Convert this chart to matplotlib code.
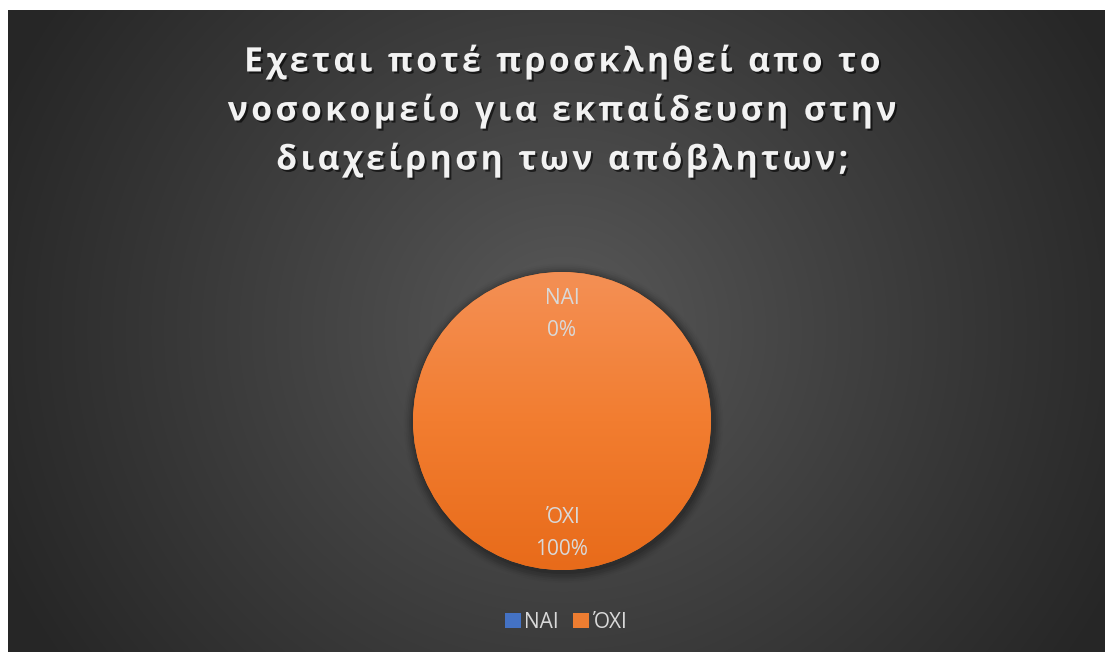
import numpy as np
import matplotlib
matplotlib.use("Agg")
import matplotlib.pyplot as plt
import matplotlib.patheffects as pe

# survey answers
answers = ["ΝΑΙ", "ΌΧΙ"]
shares = [0, 100]
colors = ["#4472C4", "#ED7D31"]
title_lines = ["Εχεται ποτέ προσκληθεί απο το",
               "νοσοκομείο για εκπαίδευση στην",
               "διαχείρηση των απόβλητων;"]

W, H = 1105, 652
fig = plt.figure(figsize=(W / 100, H / 100), dpi=100, facecolor="white")

# dark radial backdrop
bg = fig.add_axes([8 / W, 0, (W - 8) / W, (H - 10) / H])
bg.set_axis_off()
yy, xx = np.mgrid[0:H - 10, 0:W - 8]
cx, cy = 555, 320
d = np.sqrt((xx - cx) ** 2 + ((yy - cy) / 0.95) ** 2)
t = np.clip(d / 620, 0, 1) ** 0.9
inner = np.array([0x5a, 0x5a, 0x5a]) / 255
outer = np.array([0x26, 0x26, 0x26]) / 255
img = inner[None, None, :] * (1 - t[..., None]) + outer[None, None, :] * t[..., None]
bg.imshow(img, aspect="auto", extent=[0, 1, 0, 1], origin="upper")
bg.set_xlim(0, 1)
bg.set_ylim(0, 1)

# spaced-out title: hair spaces between letters
spaced = "\n".join("\u200a".join(line) for line in title_lines)
fig.text(562 / W, 1 - 111 / H, spaced, ha="center", va="center",
         fontsize=24.3, fontweight="bold", color="#F2F2F2", linespacing=1.52,
         family=["Open Sans", "DejaVu Sans"],
         path_effects=[pe.withSimplePatchShadow(offset=(1.5, -1.5), alpha=0.6, shadow_rgbFace="black")])

# pie
pcx, pcy, r = 562, 421, 149
half = 165
ax = fig.add_axes([(pcx - half) / W, (H - pcy - half) / H, 2 * half / W, 2 * half / H])
ax.set_axis_off()
lim = half / r

wedges, _ = ax.pie(shares, colors=colors, startangle=90, counterclock=False,
                   radius=1, wedgeprops=dict(linewidth=0))

# soft drop shadow under the pie
for k, a in enumerate(np.linspace(0.10, 0.02, 6)):
    sh = plt.Circle((0.01, -0.015), 1 + 0.012 * (k + 1), color="black", alpha=a, zorder=0, lw=0)
    ax.add_patch(sh)

# vertical shading on the orange slice
grad = np.linspace(0, 1, 256)[:, None, None]
top = np.array([0xF4, 0x90, 0x55]) / 255
mid = np.array([0xF2, 0x7D, 0x30]) / 255
bot = np.array([0xE8, 0x6B, 0x1A]) / 255
col = np.where(grad < 0.5, top * (1 - grad * 2) + mid * grad * 2,
               mid * (2 - grad * 2) + bot * (grad * 2 - 1))
col = np.repeat(col, 2, axis=1)
for w, v in zip(wedges, shares):
    if v > 0:
        im = ax.imshow(col, extent=[-1, 1, -1, 1], origin="upper", zorder=2, aspect="auto")
        im.set_clip_path(w)
ax.set_xlim(-lim, lim)
ax.set_ylim(-lim, lim)
ax.set_aspect("equal")

total = sum(shares)
for w, name, v in zip(wedges, answers, shares):
    ang = np.deg2rad((w.theta1 + w.theta2) / 2)
    x, y = 0.74 * np.cos(ang), 0.735 * np.sin(ang) - 0.02
    ax.text(x, y, f"{name}\n{v / total:.0%}", ha="center", va="center", fontsize=15,
            color="#D9D9D9", linespacing=1.65, family=["Open Sans", "DejaVu Sans"], zorder=5)

leg = fig.legend(wedges, answers, loc="center", bbox_to_anchor=(566 / W, 1 - 622 / H),
                 ncol=2, frameon=False, handlelength=0.75, handleheight=0.75,
                 handletextpad=0.15, columnspacing=0.7,
                 prop={"family": ["Open Sans", "DejaVu Sans"], "size": 15})
for txt in leg.get_texts():
    txt.set_color("#D9D9D9")

fig.savefig("out.png", dpi=100, facecolor="white")
